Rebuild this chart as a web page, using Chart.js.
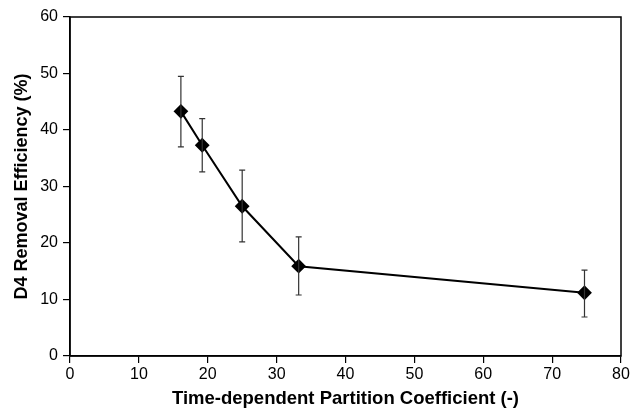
<!DOCTYPE html>
<html>
<head>
<meta charset="utf-8">
<script src="https://cdn.jsdelivr.net/npm/chart.js@4"></script>
<style>
  html, body { margin: 0; padding: 0; background: #fff; }
  #wrap { width: 636px; height: 408px; }
</style>
</head>
<body>
<div id="wrap"><canvas id="chart"></canvas></div>
<script>
// --- Data ---
const partitionCoef = [16.1, 19.2, 25.0, 33.2, 74.7];
const removalEff = [43.3, 37.3, 26.5, 15.9, 11.2];
const errLow = [37.0, 32.6, 20.2, 10.8, 6.9];
const errHigh = [49.5, 42.0, 32.9, 21.1, 15.2];
const xTicks = [0, 10, 20, 30, 40, 50, 60, 70, 80];
const yTicks = [0, 10, 20, 30, 40, 50, 60];

// error bars + frame box
const errorBarPlugin = {
    id: 'errorBars',
    afterDatasetsDraw(chart) {
        const ctx = chart.ctx;
        const xs = chart.scales.x;
        const ys = chart.scales.y;
        ctx.save();
        ctx.strokeStyle = '#333';
        ctx.lineWidth = 1.2;
        partitionCoef.forEach((x, i) => {
            const px = xs.getPixelForValue(x);
            const top = ys.getPixelForValue(errHigh[i]);
            const bot = ys.getPixelForValue(errLow[i]);
            ctx.beginPath();
            ctx.moveTo(px, top); ctx.lineTo(px, bot);
            ctx.moveTo(px - 3, top); ctx.lineTo(px + 3, top);
            ctx.moveTo(px - 3, bot); ctx.lineTo(px + 3, bot);
            ctx.stroke();
        });
        const a = chart.chartArea;
        ctx.strokeStyle = '#000';
        ctx.lineWidth = 1.5;
        ctx.strokeRect(a.left, a.top, a.right - a.left, a.bottom - a.top);
        ctx.restore();
    }
};

const tickFont = { family: 'Liberation Sans', size: 16, lineHeight: 1 };
const titleFont = { family: 'Liberation Sans', size: 18, weight: 'bold', lineHeight: 1 };

const ctx = document.getElementById('chart').getContext('2d');
new Chart(ctx, {
    type: 'scatter',
    data: {
        datasets: [{
            data: partitionCoef.map((x, i) => ({ x: x, y: removalEff[i] })),
            showLine: true,
            borderColor: '#000',
            borderWidth: 2,
            backgroundColor: '#000',
            pointStyle: 'rectRot',
            pointRadius: 6,
            pointBackgroundColor: '#000',
            pointBorderColor: '#000'
        }]
    },
    options: {
        responsive: true,
        maintainAspectRatio: false,
        animation: false,
        layout: { padding: { top: 17, right: 15, left: 13, bottom: 0 } },
        plugins: {
            legend: { display: false },
            tooltip: { enabled: false }
        },
        scales: {
            x: {
                type: 'linear',
                min: 0, max: 80,
                afterBuildTicks: axis => { axis.ticks = xTicks.map(v => ({ value: v })); },
                afterFit: axis => { axis.height = 52; },
                grid: { drawOnChartArea: false, color: '#000', tickLength: 7, lineWidth: 1.2 },
                border: { color: '#000', width: 1.5 },
                ticks: { color: '#000', font: tickFont, padding: 4, maxRotation: 0 },
                title: {
                    display: true,
                    text: 'Time-dependent Partition Coefficient (-)',
                    color: '#000',
                    font: { ...titleFont, size: 18.5 },
                    padding: { top: 0, bottom: 0 }
                }
            },
            y: {
                min: 0, max: 60,
                afterBuildTicks: axis => { axis.ticks = yTicks.map(v => ({ value: v })); },
                afterFit: axis => { axis.width = 57; },
                grid: { drawOnChartArea: false, color: '#000', tickLength: 7, lineWidth: 1.2 },
                border: { color: '#000', width: 1.5 },
                ticks: { color: '#000', font: tickFont, padding: 5 },
                title: {
                    display: true,
                    text: 'D4 Removal Efficiency (%)',
                    color: '#000',
                    font: titleFont,
                    padding: { top: 0, bottom: 0 }
                }
            }
        }
    },
    plugins: [errorBarPlugin]
});
</script>
</body>
</html>
